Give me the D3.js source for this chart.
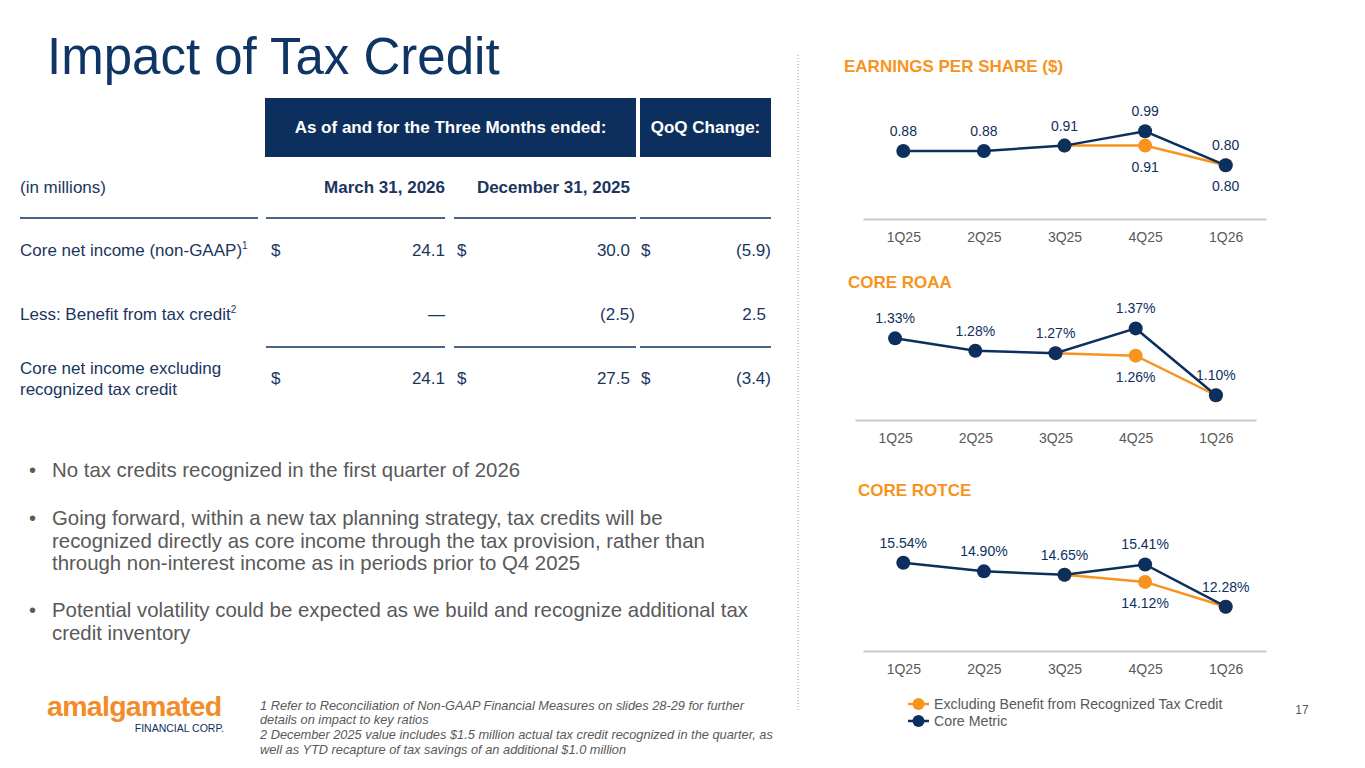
<!DOCTYPE html>
<html>
<head>
<meta charset="utf-8">
<script src="https://cdn.jsdelivr.net/npm/d3@7"></script>
<style>
  body { margin: 0; background: #fff; }
  svg { display: block; font-family: "Liberation Sans", Arial, sans-serif; }
</style>
</head>
<body>
<div id="slide"></div>
<script>
// data
var quarters = ['1Q25', '2Q25', '3Q25', '4Q25', '1Q26'];

var epsCore = [0.88, 0.88, 0.91, 0.99, 0.80];
var epsExcl = [null, null, 0.91, 0.91, 0.80];
var roaaCore = [1.33, 1.28, 1.27, 1.37, 1.10];
var roaaExcl = [null, null, 1.27, 1.26, 1.10];
var rotceCore = [15.54, 14.90, 14.65, 15.41, 12.28];
var rotceExcl = [null, null, 14.65, 14.12, 12.28];

var tableHeads = ['As of and for the Three Months ended:', 'QoQ Change:'];
var tableCols = ['March 31, 2026', 'December 31, 2025'];
var rowLabels = [['Core net income (non-GAAP)'], ['Less: Benefit from tax credit'], ['Core net income excluding', 'recognized tax credit']];
var rowSups = ['1', '2', ''];
var rowMar = ['24.1', '\u2014', '24.1'];
var rowDec = ['30.0', '(2.5)', '27.5'];
var rowQoq = ['(5.9)', '2.5', '(3.4)'];

var bullets = [
  ['No tax credits recognized in the first quarter of 2026'],
  ['Going forward, within a new tax planning strategy, tax credits will be',
   'recognized directly as core income through the tax provision, rather than',
   'through non-interest income as in periods prior to Q4 2025'],
  ['Potential volatility could be expected as we build and recognize additional tax',
   'credit inventory']
];

var footnotes = [
  '1 Refer to Reconciliation of Non-GAAP Financial Measures on slides 28-29 for further',
  'details on impact to key ratios',
  '2 December 2025 value includes $1.5 million actual tax credit recognized in the quarter, as',
  'well as YTD recapture of tax savings of an additional $1.0 million'
];

var legendNames = ['Excluding Benefit from Recognized Tax Credit', 'Core Metric'];

var navy = '#0d2f5e';
var textNavy = '#1b355e';
var orange = '#f7941d';
var gray = '#595959';

var svg = d3.select('#slide')
  .append('svg')
  .attr('width', 1365)
  .attr('height', 768);

// title
svg.append('text')
  .attr('x', 47)
  .attr('y', 74)
  .attr('fill', '#0e3563')
  .attr('font-size', 51)
  .text('Impact of Tax Credit');

// dotted divider
svg.append('line')
  .attr('x1', 798).attr('x2', 798)
  .attr('y1', 55).attr('y2', 712)
  .attr('stroke', '#9a9a9a')
  .attr('stroke-dasharray', '1,2');

// ---- table ----
var heads = [[265, 636], [640, 771]];
heads.forEach(function(h, i) {
  svg.append('rect')
    .attr('x', h[0]).attr('y', 98)
    .attr('width', h[1] - h[0]).attr('height', 59)
    .attr('fill', '#0c2f5e');
  svg.append('text')
    .attr('x', (h[0] + h[1]) / 2).attr('y', 133)
    .attr('text-anchor', 'middle')
    .attr('fill', '#fff')
    .attr('font-size', 17)
    .attr('font-weight', 'bold')
    .text(tableHeads[i]);
});

svg.append('text')
  .attr('x', 20).attr('y', 193)
  .attr('fill', textNavy).attr('font-size', 17)
  .text('(in millions)');

var colRight = [450, 635, 771];
var dollarX = [271, 457, 641];

tableCols.forEach(function(c, i) {
  svg.append('text')
    .attr('x', colRight[i] - 5).attr('y', 193)
    .attr('text-anchor', 'end')
    .attr('fill', textNavy).attr('font-size', 17).attr('font-weight', 'bold')
    .text(c);
});

function sepLine(y, segs) {
  segs.forEach(function(s) {
    svg.append('line')
      .attr('x1', s[0]).attr('x2', s[1])
      .attr('y1', y).attr('y2', y)
      .attr('stroke', navy).attr('stroke-width', 1.5);
  });
}
sepLine(218, [[20, 258], [266, 445], [454, 636], [640, 771]]);
sepLine(347, [[266, 445], [454, 636], [640, 771]]);

var rowY = [256, 320, 384];
rowLabels.forEach(function(lines, r) {
  var t = svg.append('text')
    .attr('x', 20)
    .attr('y', rowY[r] - (lines.length - 1) * 10.5)
    .attr('fill', textNavy).attr('font-size', 17);
  lines.forEach(function(l, k) {
    t.append('tspan').attr('x', 20).attr('dy', k ? 21 : 0).text(l);
  });
  if (rowSups[r]) {
    t.append('tspan').attr('font-size', 10).attr('dy', -7).text(rowSups[r]);
  }
  var vals = [rowMar[r], rowDec[r], rowQoq[r]];
  vals.forEach(function(v, c) {
    var paren = v.charAt(v.length - 1) === ')';
    svg.append('text')
      .attr('x', paren ? colRight[c] : colRight[c] - 5)
      .attr('y', rowY[r])
      .attr('text-anchor', 'end')
      .attr('fill', textNavy).attr('font-size', 17)
      .text(v);
    if (r !== 1) {
      svg.append('text')
        .attr('x', dollarX[c]).attr('y', rowY[r])
        .attr('fill', textNavy).attr('font-size', 17)
        .text('$');
    }
  });
});

// ---- bullets ----
var by = [477, 525, 617];
bullets.forEach(function(lines, i) {
  svg.append('text')
    .attr('x', 29).attr('y', by[i])
    .attr('fill', gray).attr('font-size', 20)
    .text('\u2022');
  lines.forEach(function(l, k) {
    svg.append('text')
      .attr('x', 52).attr('y', by[i] + k * 22.7)
      .attr('fill', gray).attr('font-size', 20.4)
      .text(l);
  });
});

// ---- footnotes ----
footnotes.forEach(function(f, i) {
  svg.append('text')
    .attr('x', 260).attr('y', 709.5 + i * 14.7)
    .attr('fill', gray).attr('font-size', 12.8).attr('font-style', 'italic')
    .text(f);
});

// ---- logo ----
svg.append('text')
  .attr('x', 47).attr('y', 716)
  .attr('fill', '#f28c28')
  .attr('font-size', 28.5).attr('font-weight', 'bold')
  .attr('letter-spacing', -0.7)
  .text('amalgamated');
svg.append('text')
  .attr('x', 224).attr('y', 732)
  .attr('text-anchor', 'end')
  .attr('fill', navy).attr('font-size', 10.5)
  .text('FINANCIAL CORP.');

// ---- line charts ----
var pct = function(v) { return d3.format('.2f')(v) + '%'; };
var charts = [
  { title: 'EARNINGS PER SHARE ($)', tx: 844, ty: 72, core: epsCore, excl: epsExcl,
    exclLabels: [3, 4], fmt: d3.format('.2f'), domain: [0.5, 1.1],
    axisY: 219, top: 111.6, x0: 863, x1: 1266 },
  { title: 'CORE ROAA', tx: 848, ty: 288, core: roaaCore, excl: roaaExcl,
    exclLabels: [3], fmt: pct, domain: [1.0, 1.4],
    axisY: 420, top: 321, x0: 855, x1: 1256 },
  { title: 'CORE ROTCE', tx: 858, ty: 496, core: rotceCore, excl: rotceExcl,
    exclLabels: [3], fmt: pct, domain: [9, 17],
    axisY: 651, top: 543, x0: 863, x1: 1266 }
];

charts.forEach(function(c) {
  svg.append('text')
    .attr('x', c.tx).attr('y', c.ty)
    .attr('fill', orange)
    .attr('font-size', 17).attr('font-weight', 'bold')
    .text(c.title);

  var x_scale = d3.scalePoint()
    .domain(quarters)
    .range([c.x0, c.x1])
    .padding(0.5);

  var y_scale = d3.scaleLinear()
    .domain(c.domain)
    .range([c.axisY, c.top]);

  var x_axis = d3.axisBottom(x_scale).tickSize(0).tickPadding(13);
  var g = svg.append('g')
    .attr('transform', 'translate(0,' + c.axisY + ')')
    .call(x_axis);
  g.select('.domain').attr('stroke', '#c8c8c8').attr('stroke-width', 2);
  g.selectAll('text')
    .attr('font-size', 14)
    .attr('fill', gray)
    .attr('font-family', '"Liberation Sans", Arial, sans-serif');

  var line = d3.line()
    .defined(function(d) { return d.v != null; })
    .x(function(d) { return x_scale(d.q); })
    .y(function(d) { return y_scale(d.v); });

  var series = [
    { color: orange, vals: c.excl },
    { color: navy, vals: c.core }
  ];

  series.forEach(function(s) {
    var pts = quarters.map(function(q, i) { return { q: q, v: s.vals[i], i: i }; });
    svg.append('path')
      .datum(pts)
      .attr('fill', 'none')
      .attr('stroke', s.color)
      .attr('stroke-width', 2.5)
      .attr('d', line);
    svg.selectAll(null)
      .data(pts.filter(function(d) { return d.v != null; }))
      .enter().append('circle')
      .attr('cx', function(d) { return x_scale(d.q); })
      .attr('cy', function(d) { return y_scale(d.v); })
      .attr('r', 7)
      .attr('fill', s.color);
  });

  // labels: core above, excluded below
  quarters.forEach(function(q, i) {
    svg.append('text')
      .attr('x', x_scale(q))
      .attr('y', y_scale(c.core[i]) - 15)
      .attr('text-anchor', 'middle')
      .attr('fill', navy).attr('font-size', 14)
      .text(c.fmt(c.core[i]));
  });
  c.exclLabels.forEach(function(i) {
    svg.append('text')
      .attr('x', x_scale(quarters[i]))
      .attr('y', y_scale(c.excl[i]) + 26)
      .attr('text-anchor', 'middle')
      .attr('fill', navy).attr('font-size', 14)
      .text(c.fmt(c.excl[i]));
  });
});

// ---- legend ----
[orange, navy].forEach(function(col, i) {
  var y = 704 + i * 17;
  svg.append('line')
    .attr('x1', 908).attr('x2', 929)
    .attr('y1', y).attr('y2', y)
    .attr('stroke', col).attr('stroke-width', 2.5);
  svg.append('circle')
    .attr('cx', 918.5).attr('cy', y).attr('r', 6)
    .attr('fill', col);
  svg.append('text')
    .attr('x', 934).attr('y', y + 5)
    .attr('fill', gray).attr('font-size', 14.2)
    .text(legendNames[i]);
});

svg.append('text')
  .attr('x', 1302).attr('y', 714)
  .attr('text-anchor', 'middle')
  .attr('fill', gray).attr('font-size', 12)
  .text('17');
</script>
</body>
</html>
